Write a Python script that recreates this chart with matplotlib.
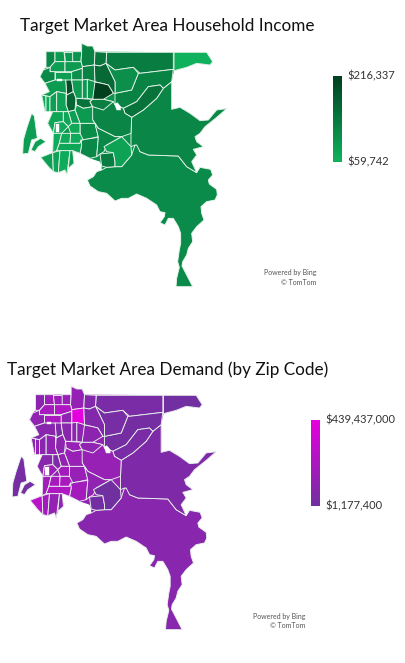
import numpy as np
import matplotlib.pyplot as plt
from matplotlib.colors import LinearSegmentedColormap

plt.rcParams['font.family'] = ['Lato', 'DejaVu Sans']

W, H = 406, 663

income_range = [59742, 216337]
demand_range = [1177400, 439437000]

# whole area north of the big south zip, sits under the zips so no white gaps show between them
silhouette = [(138,65),(245,65),(245,40),(262,48),(278,48),(285,65),(620,67),(638,95),(630,105),(590,100),(560,112),(522,122),(515,155),(515,238),(540,232),(570,250),(600,272),(625,270),(650,240),(680,236),(650,262),(615,290),(600,310),(585,320),(590,335),(610,350),(580,358),(590,375),(575,395),(590,428),(535,400),(420,390),(345,425),(305,420),(305,408),(300,395),(270,385),(240,370),(218,362),(222,400),(205,415),(200,435),(195,420),(175,428),(160,425),(145,410),(122,382),(158,368),(160,310),(143,280),(158,245),(135,245),(125,195),(148,185),(135,160),(120,140),(130,120),(138,112)]
backing_income = 104000
backing_demand = 130000000

# zip outlines, in units of 1/3 px
zip_shapes = [
    # big south
    [(262,450),(280,440),(290,425),(305,420),(320,412),(345,410),(365,410),(395,375),(405,345),(415,345),(420,365),(445,375),(535,378),(560,410),(590,428),(600,412),(632,418),(638,435),(625,450),(628,462),(650,478),(652,495),(645,510),(620,515),(603,530),(605,550),(612,570),(590,590),(575,610),(578,635),(565,655),(560,675),(548,695),(546,708),(560,735),(578,770),(528,770),(530,745),(538,712),(533,695),(538,660),(542,640),(542,610),(535,590),(520,565),(505,565),(495,585),(480,578),(493,560),(495,548),(480,545),(470,525),(440,505),(410,492),(385,505),(365,505),(345,513),(320,490),(295,485),(270,468)],
    # east
    [(515,238),(540,232),(570,250),(600,272),(625,270),(650,240),(680,236),(650,262),(615,290),(600,310),(585,320),(590,335),(610,350),(580,358),(590,375),(575,395),(590,428),(560,410),(535,378),(445,375),(420,365),(410,345),(405,345),(393,350),(393,310),(395,262),(430,240),(470,205),(490,175),(515,155)],
    # far north east
    [(522,67),(620,67),(638,95),(630,105),(590,100),(560,112),(522,122)],
    # north
    [(320,67),(520,67),(520,118),(420,130),(400,112),(345,120),(318,100)],
    # upper middle
    [(345,190),(395,180),(415,130),(420,130),(520,118),(515,155),(490,175),(480,165),(445,170),(410,215),(370,235),(345,225)],
    [(318,100),(345,120),(400,112),(415,130),(395,180),(345,190),(345,155)],
    # dark band
    [(370,235),(410,215),(445,170),(480,165),(490,175),(470,205),(430,240),(395,262),(375,250)],
    # central large
    [(270,215),(310,208),(340,215),(345,225),(370,235),(375,250),(395,262),(393,310),(365,320),(345,320),(295,295),(278,270)],
    # south of centre
    [(240,280),(285,280),(295,320),(250,330),(240,320)],
    [(243,330),(295,322),(290,380),(270,385),(240,370),(245,345)],
    [(285,280),(295,295),(345,320),(365,320),(320,345),(312,365),(300,372),(290,380),(295,322)],
    [(300,372),(340,368),(345,395),(345,410),(320,412),(305,408)],
    [(312,350),(365,320),(393,350),(395,375),(365,410),(345,410),(345,395),(340,368),(320,365)],
    # top row
    [(138,65),(165,65),(165,95),(150,112),(138,112)],
    [(165,65),(192,65),(195,95),(165,95)],
    [(192,65),(218,65),(218,95),(195,95)],
    [(218,65),(245,65),(243,95),(218,95)],
    [(245,40),(262,48),(278,48),(285,65),(283,105),(247,110),(243,95),(245,65)],
    [(285,65),(320,67),(318,100),(300,108),(283,105)],
    # second row
    [(150,112),(165,95),(195,95),(195,125),(150,125)],
    [(195,95),(243,95),(247,110),(247,115),(215,125),(195,125)],
    [(120,140),(130,120),(150,112),(150,125),(165,125),(165,150),(135,160)],
    [(165,125),(215,125),(215,150),(165,150)],
    [(215,125),(247,115),(247,150),(215,150)],
    [(247,110),(283,105),(285,155),(247,150)],
    [(283,105),(300,108),(318,100),(345,155),(345,190),(340,190),(325,165),(305,160),(285,155)],
    [(278,155),(305,160),(325,165),(340,190),(310,208),(278,208)],
    # third row
    [(197,150),(215,150),(220,185),(200,195)],
    [(215,150),(247,150),(247,205),(228,205),(220,185)],
    [(247,150),(262,148),(262,205),(247,205)],
    [(262,148),(285,155),(278,208),(262,205)],
    [(135,160),(165,150),(197,150),(200,195),(198,190),(170,185),(150,200),(125,195),(148,185)],
    [(200,195),(220,185),(228,205),(225,240),(205,245),(198,225)],
    [(228,205),(278,208),(270,215),(278,230),(250,235),(230,225)],
    [(278,208),(310,208),(340,215),(310,240),(278,230),(270,215)],
    # west strips
    [(125,195),(138,198),(138,245),(135,245)],
    [(138,198),(150,200),(150,245),(138,245)],
    [(150,200),(170,185),(170,245),(150,245)],
    [(170,185),(198,190),(198,225),(205,245),(170,245)],
    [(225,240),(230,225),(250,235),(278,230),(278,270),(285,280),(240,280)],
    [(205,245),(225,240),(240,280),(215,280)],
    # lower west
    [(143,280),(158,245),(190,245),(190,275),(165,278),(160,310)],
    [(190,245),(205,245),(215,280),(205,290),(190,275)],
    [(165,278),(190,275),(205,290),(185,310),(160,310)],
    [(205,290),(215,280),(240,280),(240,310),(212,310)],
    [(160,310),(185,310),(178,340),(170,362),(158,368)],
    [(185,310),(212,310),(210,340),(178,340)],
    [(212,310),(240,310),(250,330),(243,330),(240,340),(210,340)],
    [(178,340),(240,340),(243,330),(245,345),(240,370),(218,362),(180,362),(170,362)],
    # south tip strips
    [(122,382),(158,368),(160,425),(145,410)],
    [(158,368),(180,362),(175,428),(160,425)],
    [(180,362),(210,362),(205,400),(200,435),(195,420),(175,428)],
    [(210,362),(218,362),(222,400),(205,415)],
    # island
    [(95,250),(103,258),(108,295),(112,325),(95,330),(85,370),(68,372),(70,330),(80,295),(90,265)],
    [(93,360),(105,335),(122,325),(138,335),(115,350),(105,365)],
]

# one value per outline
income_values = [
    113000, 120000, 62000, 132000, 125000, 108000, 146000, 122000, 110000, 118000, 118000, 132000, 82000,
    118000, 92000, 95000, 100000, 125000, 142000,
    88000, 92000, 115000, 88000, 108000, 125000, 160000, 216000,
    195000, 90000, 95000, 100000, 92000, 165000, 148000, 130000,
    75000, 70000, 85000, 80000, 95000, 85000,
    78000, 76000, 72000, 72000, 68000, 72000, 70000, 75000,
    85000, 80000, 70000, 90000, 88000, 85000,
]
demand_values = [
    95000000, 55000000, 10000000, 35000000, 15000000, 30000000, 35000000, 145000000, 150000000, 190000000, 120000000, 12000000, 4000000,
    110000000, 170000000, 180000000, 150000000, 135000000, 70000000,
    205000000, 230000000, 120000000, 215000000, 120000000, 438000000, 70000000, 110000000,
    60000000, 90000000, 130000000, 120000000, 95000000, 110000000, 150000000, 120000000,
    110000000, 150000000, 100000000, 120000000, 150000000, 130000000,
    95000000, 60000000, 170000000, 190000000, 175000000, 200000000, 215000000, 240000000,
    280000000, 190000000, 140000000, 120000000, 30000000, 25000000,
]

holes = [
    [(344,222),(352,218),(362,230),(362,240),(350,240)],
    [(172,147),(186,147),(186,153),(172,153)],
    [(168,282),(178,282),(178,305),(168,305)],
]

green = LinearSegmentedColormap.from_list('g', ['#10b25e', '#00401f'])
purple = LinearSegmentedColormap.from_list('p', ['#7030a0', '#e600e0'])


def draw_map(rect, x0, back, values, vrange, cmap):
    ax = fig.add_axes([rect[0]/W, 1-(rect[1]+rect[3])/H, rect[2]/W, rect[3]/H])
    xy = np.array(silhouette)
    ax.fill(xy[:, 0], xy[:, 1], fc=cmap((back-vrange[0])/(vrange[1]-vrange[0])), ec='none')
    for shape, v in zip(zip_shapes, values):
        f = (v-vrange[0])/(vrange[1]-vrange[0])
        xy = np.array(shape)
        ax.fill(xy[:, 0], xy[:, 1], fc=cmap(f), ec='#e8f4ec', lw=0.65, joinstyle='round')
    for shape in holes:
        xy = np.array(shape)
        ax.fill(xy[:, 0], xy[:, 1], fc='white', ec='white', lw=0.3)
    ax.set_xlim(x0, x0+780)
    ax.set_ylim(810, 0)
    ax.axis('off')
    return ax


def draw_scale(rect, cmap):
    ax = fig.add_axes([rect[0]/W, 1-(rect[1]+rect[3])/H, rect[2]/W, rect[3]/H])
    ax.imshow(np.linspace(1, 0, 200).reshape(-1, 1), cmap=cmap, aspect='auto')
    ax.axis('off')


fig = plt.figure(figsize=(W/100, H/100), dpi=100)

draw_map((0, 30, 260, 270), 0, backing_income, income_values, income_range, green)
draw_map((0, 373, 260, 270), 31.5, backing_demand, demand_values, demand_range, purple)

draw_scale((333, 76, 9, 86), green)
draw_scale((311, 420, 9, 86), purple)

fig.text(20/W, 1-26/H, 'Target Market Area Household Income', fontsize=12.3, color='#111111', va='center')
fig.text(7/W, 1-370/H, 'Target Market Area Demand (by Zip Code)', fontsize=12.3, color='#111111', va='center')

fig.text(347/W, 1-76/H, '$216,337', fontsize=8, color='#333333', va='center')
fig.text(347/W, 1-162/H, '$59,742', fontsize=8, color='#333333', va='center')
fig.text(325/W, 1-420/H, '$439,437,000', fontsize=8, color='#333333', va='center')
fig.text(325/W, 1-506/H, '$1,177,400', fontsize=8, color='#333333', va='center')

fig.text(316/W, 1-272/H, 'Powered by Bing', fontsize=5, color='#555555', ha='right', va='center')
fig.text(316/W, 1-282/H, '© TomTom', fontsize=5, color='#555555', ha='right', va='center')
fig.text(305/W, 1-616/H, 'Powered by Bing', fontsize=5, color='#555555', ha='right', va='center')
fig.text(305/W, 1-626/H, '© TomTom', fontsize=5, color='#555555', ha='right', va='center')

fig.savefig('out.png', dpi=100)
